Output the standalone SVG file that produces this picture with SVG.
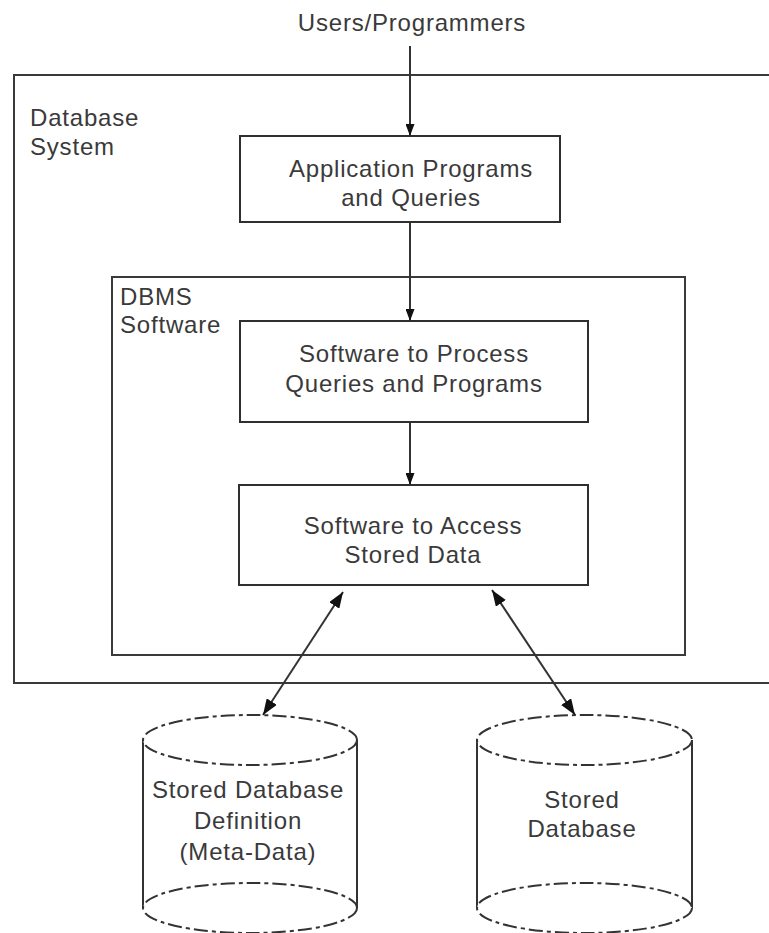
<svg xmlns="http://www.w3.org/2000/svg" width="769" height="933" viewBox="0 0 769 933">
  <style>
    .frame { fill: none; stroke: #3a3a3a; stroke-width: 2; }
    .box { fill: #ffffff; stroke: #2f2f2f; stroke-width: 2; }
    .lbl { font-family: "Liberation Sans", Arial, sans-serif; font-size: 24px; fill: #3a3a3a; letter-spacing: 0.8px; }
    .mid { text-anchor: middle; }
    .link { stroke: #333333; stroke-width: 2; fill: none; }
    .dash { fill: #ffffff; stroke: #333333; stroke-width: 2; stroke-dasharray: 14 4 4 4; }
    .side { stroke: #333333; stroke-width: 2; }
  </style>
  <defs>
    <!-- narrow head for the vertical flow arrows -->
    <marker id="head" viewBox="0 0 12 9" refX="12" refY="4.5" markerWidth="12" markerHeight="9" markerUnits="userSpaceOnUse" orient="auto-start-reverse">
      <path d="M0,0 L12,4.5 L0,9 Z" fill="#111111"/>
    </marker>
    <!-- larger head for the two-way storage links -->
    <marker id="head2" viewBox="0 0 16 12" refX="16" refY="6" markerWidth="16" markerHeight="12" markerUnits="userSpaceOnUse" orient="auto-start-reverse">
      <path d="M0,0 L16,6 L0,12 Z" fill="#111111"/>
    </marker>
  </defs>
  <rect width="769" height="933" fill="#ffffff"/>

  <text class="lbl mid" x="412" y="31">Users/Programmers</text>

  <g id="database-system">
    <rect class="frame" x="14" y="75" width="780" height="608"/>
    <text class="lbl" x="30" y="126">Database</text>
    <text class="lbl" x="30" y="155">System</text>
  </g>

  <g id="dbms-software">
    <rect class="frame" x="112" y="277" width="573" height="378"/>
    <text class="lbl" x="120" y="305">DBMS</text>
    <text class="lbl" x="120" y="333">Software</text>
  </g>

  <g id="application-programs">
    <rect class="box" x="240" y="136" width="320" height="86"/>
    <text class="lbl mid" x="411" y="177">Application Programs</text>
    <text class="lbl mid" x="411" y="206">and Queries</text>
  </g>

  <g id="query-processor">
    <rect class="box" x="240" y="321" width="348" height="101"/>
    <text class="lbl mid" x="414" y="362">Software to Process</text>
    <text class="lbl mid" x="414" y="392">Queries and Programs</text>
  </g>

  <g id="data-access">
    <rect class="box" x="239" y="485" width="349" height="100"/>
    <text class="lbl mid" x="413" y="534">Software to Access</text>
    <text class="lbl mid" x="413" y="563">Stored Data</text>
  </g>

  <g id="metadata-store">
    <line class="side" x1="143" y1="740" x2="143" y2="908"/>
    <line class="side" x1="357" y1="740" x2="357" y2="908"/>
    <ellipse class="dash" cx="250" cy="908" rx="107" ry="25"/>
    <ellipse class="dash" cx="250" cy="740" rx="107" ry="25"/>
    <text class="lbl mid" x="248" y="798">Stored Database</text>
    <text class="lbl mid" x="248" y="829">Definition</text>
    <text class="lbl mid" x="248" y="860">(Meta-Data)</text>
  </g>

  <g id="stored-database">
    <line class="side" x1="477" y1="740" x2="477" y2="908"/>
    <line class="side" x1="692" y1="740" x2="692" y2="908"/>
    <ellipse class="dash" cx="584.5" cy="908" rx="107.5" ry="25"/>
    <ellipse class="dash" cx="584.5" cy="740" rx="107.5" ry="25"/>
    <text class="lbl mid" x="582" y="808">Stored</text>
    <text class="lbl mid" x="582" y="837">Database</text>
  </g>

  <g id="connectors">
    <line class="link" x1="410" y1="46" x2="410" y2="136" marker-end="url(#head)"/>
    <line class="link" x1="410" y1="222" x2="410" y2="321" marker-end="url(#head)"/>
    <line class="link" x1="410" y1="422" x2="410" y2="485" marker-end="url(#head)"/>
    <line class="link" x1="343" y1="592" x2="263" y2="715" marker-start="url(#head2)" marker-end="url(#head2)"/>
    <line class="link" x1="492" y1="590" x2="575" y2="715" marker-start="url(#head2)" marker-end="url(#head2)"/>
  </g>
</svg>
